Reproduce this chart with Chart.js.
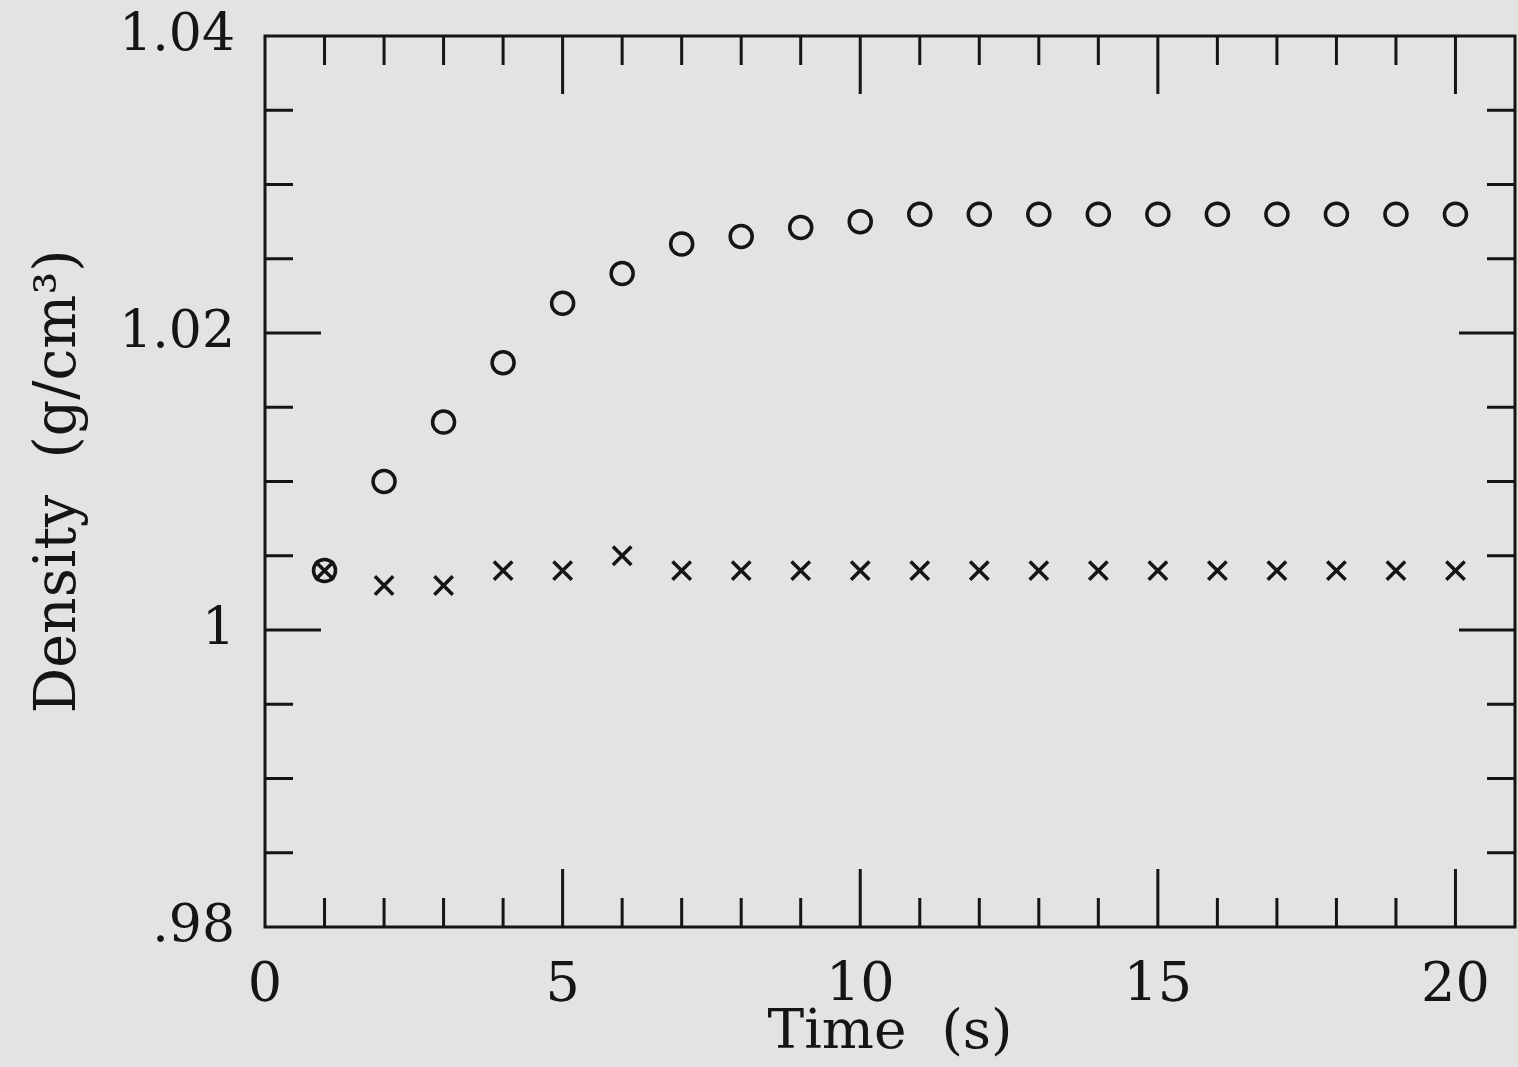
<!DOCTYPE html>
<html>
<head>
<meta charset="utf-8">
<script src="https://cdn.jsdelivr.net/npm/chart.js@4"></script>
<style>
  html, body { margin: 0; padding: 0; background: #e3e3e3; overflow: hidden; }
  #wrap { width: 1518px; height: 1067px; position: relative; }
</style>
</head>
<body>
<div id="wrap"><canvas id="densityChart"></canvas></div>
<script>
// time steps (s)
const times = [1, 2, 3, 4, 5, 6, 7, 8, 9, 10, 11, 12, 13, 14, 15, 16, 17, 18, 19, 20];
// open circles
const circleVals = [1.004, 1.010, 1.014, 1.018, 1.022, 1.024, 1.026, 1.0265, 1.0271, 1.0275,
                    1.028, 1.028, 1.028, 1.028, 1.028, 1.028, 1.028, 1.028, 1.028, 1.028];
// crosses
const crossVals = [1.004, 1.003, 1.003, 1.004, 1.004, 1.005, 1.004, 1.004, 1.004, 1.004,
                   1.004, 1.004, 1.004, 1.004, 1.004, 1.004, 1.004, 1.004, 1.004, 1.004];
const xMin = 0, xMax = 21, xStep = 1, xMajor = 5;
const yMin = 0.98, yMax = 1.04, yStep = 0.005, yMajor = 0.02;

const ink = '#151515';
const serif = "'DejaVu Serif', 'Liberation Serif', serif";

const isMajor = (v, m) => Math.abs(v / m - Math.round(v / m)) < 1e-6;

function fmtY(v) {
    let s = String(+v.toFixed(3));
    if (s.startsWith('0.')) s = s.slice(1);
    return s;
}

// frame + inward tick marks on all four sides
const framePlugin = {
    id: 'frame',
    beforeDatasetsDraw(chart) {
        const { ctx, chartArea: a, scales } = chart;
        ctx.save();
        ctx.strokeStyle = ink;
        ctx.lineWidth = 3;
        ctx.strokeRect(a.left, a.top, a.right - a.left, a.bottom - a.top);
        ctx.beginPath();
        scales.x.ticks.forEach(t => {
            if (t.value <= xMin || t.value >= xMax) return;
            const px = scales.x.getPixelForValue(t.value);
            const len = isMajor(t.value, xMajor) ? 58 : 29;
            ctx.moveTo(px, a.bottom); ctx.lineTo(px, a.bottom - len);
            ctx.moveTo(px, a.top); ctx.lineTo(px, a.top + len);
        });
        scales.y.ticks.forEach(t => {
            if (t.value <= yMin + 1e-9 || t.value >= yMax - 1e-9) return;
            const py = scales.y.getPixelForValue(t.value);
            const len = isMajor(t.value, yMajor) ? 56 : 28;
            ctx.moveTo(a.left, py); ctx.lineTo(a.left + len, py);
            ctx.moveTo(a.right, py); ctx.lineTo(a.right - len, py);
        });
        ctx.stroke();
        ctx.restore();
    }
};

new Chart(document.getElementById('densityChart'), {
    type: 'scatter',
    data: {
        datasets: [
            {
                label: 'circles',
                data: times.map((t, i) => ({ x: t, y: circleVals[i] })),
                pointStyle: 'circle',
                pointRadius: 11,
                borderWidth: 3.5,
                borderColor: ink,
                backgroundColor: 'rgba(0,0,0,0)'
            },
            {
                label: 'crosses',
                data: times.map((t, i) => ({ x: t, y: crossVals[i] })),
                pointStyle: 'crossRot',
                pointRadius: 13,
                borderWidth: 3.5,
                borderColor: ink,
                backgroundColor: ink
            }
        ]
    },
    options: {
        responsive: true,
        maintainAspectRatio: false,
        animation: false,
        clip: false,
        layout: { autoPadding: false, padding: { top: 36, right: 3, left: 0, bottom: 0 } },
        plugins: { legend: { display: false }, tooltip: { enabled: false } },
        scales: {
            x: {
                type: 'linear',
                min: xMin, max: xMax,
                afterFit: s => { s.height = 140; s.paddingLeft = 0; s.paddingRight = 0; },
                grid: { display: false, drawTicks: false },
                border: { display: false },
                ticks: {
                    stepSize: xStep, autoSkip: false, maxRotation: 0, padding: 28,
                    color: ink, font: { family: serif, size: 54 },
                    callback: v => isMajor(v, xMajor) ? String(v) : ''
                },
                title: {
                    display: true, text: 'Time  (s)', color: ink,
                    font: { family: serif, size: 55, lineHeight: 1.2 },
                    padding: { top: 0, bottom: 0 }
                }
            },
            y: {
                type: 'linear',
                min: yMin, max: yMax,
                afterFit: s => { s.width = 265; s.paddingTop = 0; s.paddingBottom = 0; },
                grid: { display: false, drawTicks: false },
                border: { display: false },
                ticks: {
                    stepSize: yStep, autoSkip: false, padding: 30,
                    color: ink, font: { family: serif, size: 52 },
                    callback: v => isMajor(v, yMajor) ? fmtY(v) : ''
                },
                title: {
                    display: true, text: 'Density  (g/cm³)', color: ink,
                    font: { family: serif, size: 57, lineHeight: 1.2 },
                    padding: { top: 26, bottom: 0 }
                }
            }
        }
    },
    plugins: [framePlugin]
});
</script>
</body>
</html>
